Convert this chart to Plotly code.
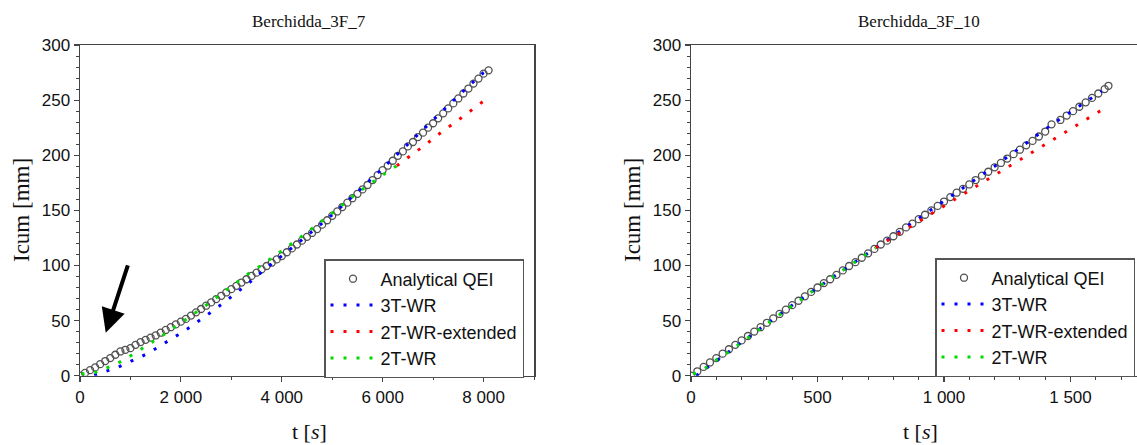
import plotly.graph_objects as go

# ---------------- data: left panel (Berchidda_3F_7) ----------------
L_qei_t = [0, 100, 200, 300, 400, 500, 600, 700, 800, 900, 1000, 1100, 1200, 1300, 1400, 1500,
           1600, 1700, 1800, 1900, 2000, 2100, 2200, 2300, 2400, 2500, 2600, 2700, 2800, 2900,
           3000, 3100, 3200, 3300, 3400, 3500, 3600, 3700, 3800, 3900, 4000, 4100, 4200, 4300,
           4400, 4500, 4600, 4700, 4800, 4900, 5000, 5100, 5200, 5300, 5400, 5500, 5600, 5700,
           5800, 5900, 6000, 6100, 6200, 6300, 6400, 6500, 6600, 6700, 6800, 6900, 7000, 7100,
           7200, 7300, 7400, 7500, 7600, 7700, 7800, 7900, 8000, 8100]
L_qei_i = [0, 2.5, 5, 7.5, 10.5, 13.3, 16, 19, 22, 23.5, 25, 28, 30.5, 32.5, 34.5, 36.5,
           39, 41.5, 44, 46.5, 49, 51.5, 54.5, 57.5, 60.5, 63.5, 66.5, 69.5, 72.5, 75.5,
           78.5, 81.5, 84.5, 87.5, 90.5, 93.5, 96.5, 99.5, 102.5, 105.5, 108.5, 112, 115.5, 119,
           122.5, 126, 129.5, 133, 137, 141, 145, 149, 153, 157, 161, 165, 169, 173,
           177.5, 182, 186.5, 190.5, 195, 199.5, 203.5, 208, 212, 216.5, 220.5, 225, 229, 233.5,
           238, 242.5, 247, 251.5, 256, 260.5, 265, 269.5, 274, 277]

L_3t_t = [280, 510, 750, 980, 1220, 1460, 1700, 1940, 2180, 2420, 2660, 2900, 3140, 3370,
          3610, 3850, 4090, 4500, 5000, 5500, 6000, 6500, 7000, 7500, 8000, 8110]
L_3t_i = [0.5, 4, 7.6, 12.5, 17.3, 23.4, 30, 37, 44, 51.5, 59.7, 68, 76.4, 85,
          94.5, 103, 112, 127, 146, 166.5, 188, 210, 232, 254, 275, 278]

L_2te_t = [6280, 6400, 6600, 6850, 7085, 7323, 7561, 7799, 8037]
L_2te_i = [190.5, 194.5, 201, 209.5, 218.2, 225.8, 234, 242.2, 250.4]

L_2t_t = [30, 264, 510, 747, 978, 1223, 1461, 1705, 1937, 2181, 2419, 2657, 2895, 3139,
          3371, 3609, 3847, 4107, 4500, 5068, 5500, 6000, 6280]
L_2t_i = [1.5, 2.2, 6.7, 11.2, 17.3, 24.3, 31, 38.5, 46, 53.6, 61.3, 69.4, 77.3, 85.5,
          93.6, 100.5, 108.5, 117, 130, 150, 166, 182, 190.5]

# ---------------- data: right panel (Berchidda_3F_10) ----------------
R_qei_t = [0, 25, 50, 75, 100, 125, 150, 175, 200, 225, 250, 275, 300, 325, 350, 375, 400,
           425, 450, 475, 500, 525, 550, 575, 600, 625, 650, 675, 700, 725, 750, 775, 800,
           825, 850, 875, 900, 925, 950, 975, 1000, 1025, 1050, 1075, 1100, 1125, 1150, 1175,
           1200, 1225, 1250, 1275, 1300, 1325, 1350, 1375, 1400, 1425,
           1460, 1485, 1510, 1535, 1560, 1585, 1610, 1635, 1650]
R_qei_i = [0, 4, 8, 12, 16, 20, 24, 28, 32, 36, 40, 44, 48, 52, 56, 60, 64,
           68, 72, 76, 80, 84, 87.5, 91.5, 95.5, 99.5, 103, 107, 111, 115, 119, 122.5, 126.5,
           130.5, 134.5, 138, 142, 146, 150, 154, 158, 162, 166, 169.5, 173.5, 177.5, 181.5, 185,
           189, 193, 197, 201, 205, 209, 213, 217, 221.5, 228,
           232, 236, 240, 244, 248, 252, 256, 260, 263]

R_3t_t = [20, 400, 800, 1200, 1430, 1623]
R_3t_i = [0, 64, 127, 190, 228.5, 258]

R_2te_t = [730, 850, 1000, 1200, 1377, 1500, 1620]
R_2te_i = [116, 133, 153.5, 182, 206.6, 224, 240.6]

R_2t_t = [9, 55, 104, 152, 300, 500, 730]
R_2t_i = [1.3, 6.7, 14.9, 22, 47, 80, 116]

# ---------------- labels ----------------
titles = ["Berchidda_3F_7", "Berchidda_3F_10"]
names = ["Analytical QEI", "3T-WR", "2T-WR-extended", "2T-WR"]
L_xticks = [0, 2000, 4000, 6000, 8000]
L_xtext = ["0", "2 000", "4 000", "6 000", "8 000"]
R_xticks = [0, 500, 1000, 1500]
R_xtext = ["0", "500", "1 000", "1 500"]
yticks = [0, 50, 100, 150, 200, 250, 300]

W, H = 1137, 445
SANS = "Liberation Sans, Arial, sans-serif"
SERIF = "Liberation Serif, Times New Roman, serif"
AX = "#444444"
BLUE, RED, GREEN, GRAY = "#0000ff", "#ff0000", "#00d800", "#505050"
DASH = "3px,10px"

fig = go.Figure()

def add_panel(xa, ya, leg, qt, qi, bt, bi, rt, ri, gt, gi):
    fig.add_trace(go.Scatter(x=qt, y=qi, mode="markers", name=names[0], xaxis=xa, yaxis=ya,
                             legend=leg, legendrank=1,
                             marker=dict(symbol="circle-open", size=7, color=GRAY,
                                         line=dict(width=1.3, color=GRAY))))
    fig.add_trace(go.Scatter(x=bt, y=bi, mode="lines", name=names[1], xaxis=xa, yaxis=ya,
                             legend=leg, legendrank=2,
                             line=dict(color=BLUE, width=3, dash=DASH)))
    fig.add_trace(go.Scatter(x=rt, y=ri, mode="lines", name=names[2], xaxis=xa, yaxis=ya,
                             legend=leg, legendrank=3,
                             line=dict(color=RED, width=3, dash=DASH)))
    fig.add_trace(go.Scatter(x=gt, y=gi, mode="lines", name=names[3], xaxis=xa, yaxis=ya,
                             legend=leg, legendrank=4,
                             line=dict(color=GREEN, width=3, dash=DASH)))

add_panel("x", "y", "legend", L_qei_t, L_qei_i, L_3t_t, L_3t_i, L_2te_t, L_2te_i, L_2t_t, L_2t_i)
add_panel("x2", "y2", "legend2", R_qei_t, R_qei_i, R_3t_t, R_3t_i, R_2te_t, R_2te_i, R_2t_t, R_2t_i)

ydom = [1 - 375.7 / H, 1 - 45 / H]
tickfont = dict(family=SANS, size=17, color="#111111")

def xaxis_cfg(dom, rng, tv, tt, minor_dt, anchor):
    return dict(domain=dom, range=rng, tickvals=tv, ticktext=tt, showgrid=False, zeroline=False,
                anchor=anchor, automargin=False,
                showline=True, linecolor=AX, linewidth=1.5, mirror=True,
                ticks="outside", ticklen=5, tickwidth=1.2, tickcolor=AX, tickfont=tickfont,
                minor=dict(dtick=minor_dt, ticks="outside", ticklen=3, tickwidth=1, tickcolor=AX,
                           showgrid=False))

def yaxis_cfg(anchor, mirror):
    return dict(domain=ydom, range=[0, 300], tickvals=yticks, anchor=anchor, showgrid=False,
                zeroline=False, automargin=False,
                showline=True, linecolor=AX, linewidth=1.5, mirror=mirror,
                ticks="outside", ticklen=5, tickwidth=1.2, tickcolor=AX, tickfont=tickfont,
                minor=dict(dtick=10, ticks="outside", ticklen=3, tickwidth=1, tickcolor=AX,
                           showgrid=False))

x0L, x1L = 80 / W, 534 / W
x0R = 691 / W
R_max = (W - 691) / 0.253

legend_common = dict(bgcolor="white", bordercolor="#555555", borderwidth=1.5,
                     font=dict(family=SANS, size=18, color="#111111"),
                     xanchor="left", yanchor="top", itemwidth=45, tracegroupgap=0)

fig.update_layout(
    width=W, height=H, margin=dict(l=0, r=0, t=0, b=0, autoexpand=False),
    paper_bgcolor="white", plot_bgcolor="white",
    xaxis=xaxis_cfg([x0L, x1L], [0, 9000], L_xticks, L_xtext, 1000, "y"),
    yaxis=yaxis_cfg("x", True),
    xaxis2=xaxis_cfg([x0R, 1.0], [0, R_max], R_xticks, R_xtext, 100, "y2"),
    yaxis2=yaxis_cfg("x2", False),
    legend=dict(x=324 / W, y=1 - 259 / H, **legend_common),
    legend2=dict(x=935 / W, y=1 - 258 / H, **legend_common),
)

ann = []
for cx, txt in [(309, titles[0]), (919, titles[1])]:
    ann.append(dict(x=cx / W, y=1 - 22 / H, xref="paper", yref="paper", text=txt, showarrow=False,
                    font=dict(family=SERIF, size=17, color="#111111"),
                    xanchor="center", yanchor="middle"))
for cx in (309, 920):
    ann.append(dict(x=cx / W, y=1 - 431 / H, xref="paper", yref="paper", text="t [<i>s</i>]",
                    showarrow=False, font=dict(family=SERIF, size=22, color="#111111"),
                    xanchor="center", yanchor="middle"))
for cx in (21, 632):
    ann.append(dict(x=cx / W, y=1 - 210 / H, xref="paper", yref="paper", text="Icum [mm]",
                    showarrow=False, textangle=-90, font=dict(family=SERIF, size=23, color="#111111"),
                    xanchor="center", yanchor="middle"))
# arrow pointing to early-time deviation
ann.append(dict(x=510, y=39, ax=958, ay=101.5, xref="x", yref="y", axref="x", ayref="y",
                text="", showarrow=True, arrowhead=2, arrowsize=1.2, arrowwidth=4,
                arrowcolor="black"))
fig.update_layout(annotations=ann)

fig.write_html("out.html", config={"displayModeBar": False, "staticPlot": True},
               post_script="document.body.style.margin='0px';document.body.style.overflow='hidden';")
